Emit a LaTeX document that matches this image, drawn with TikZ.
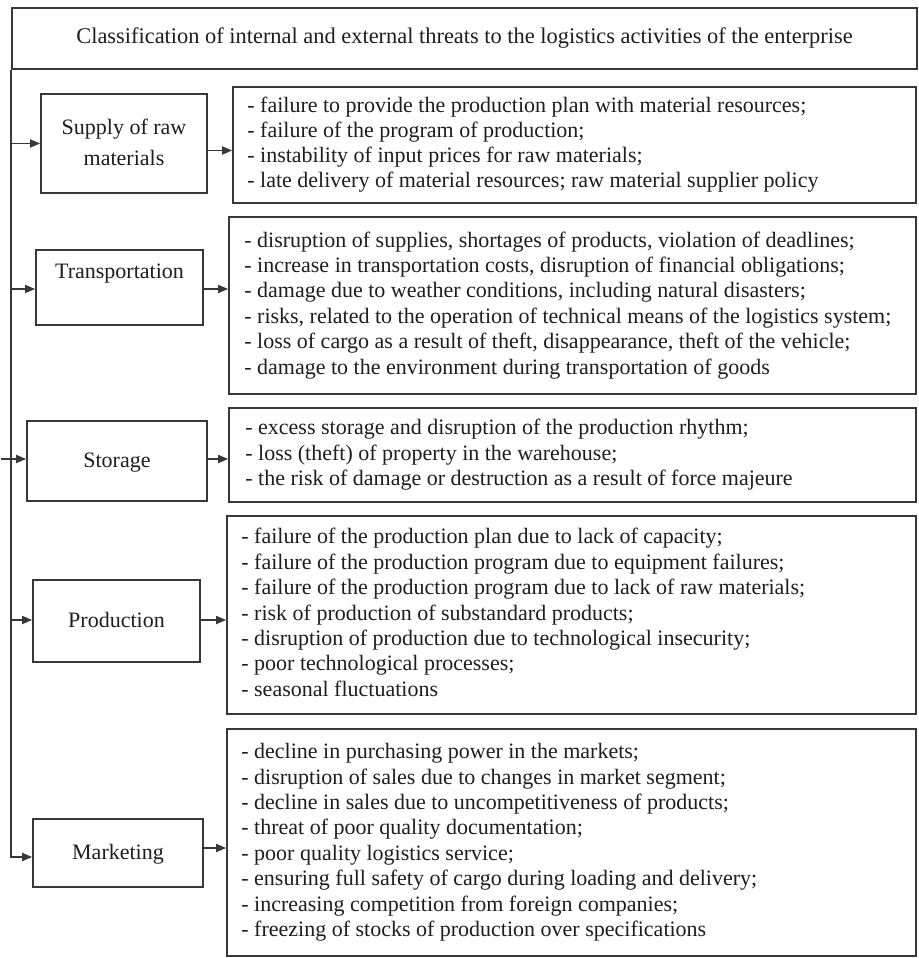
\documentclass[tikz,border=0pt]{standalone}
\usepackage{fontspec}
\setmainfont{Liberation Serif}
\usetikzlibrary{arrows.meta}
\definecolor{linec}{HTML}{383838}
\definecolor{txtc}{HTML}{1E1E1E}
\newcommand\supfnt{\fontsize{22}{24.8}\selectfont}
\newcommand\loosefnt{\fontsize{22}{25.4}\selectfont}
\begin{document}
\begin{tikzpicture}[x=1pt,y=-1pt,
  box/.style={draw=linec, line width=1.7pt, inner sep=0pt, text=txtc},
  arr/.style={draw=linec, line width=1.7pt, -{Triangle[length=10pt,width=8pt]}},
  lt/.style={font={\fontsize{22}{30}\selectfont}, align=center},
  rt/.style={anchor=west, inner sep=0pt, align=left, text=txtc, font=\loosefnt},
]
\useasboundingbox (0,0) rectangle (918,958);
\fill[white] (0,0) rectangle (918,958);

\node[box, minimum width=905pt, minimum height=61pt, font={\fontsize{22.4}{24}\selectfont}] (title) at (464.5,38.5)
  {\strut Classification of internal and external threats to the logistics activities of the enterprise};

% left boxes
\node[box, lt, minimum width=166pt, minimum height=99pt, font={\fontsize{22}{31}\selectfont}] (sup) at (124,143.5) {\strut Supply of raw\\materials\strut};
\node[box, lt, minimum width=167pt, minimum height=75pt] (tra) at (119.5,287.5) {\strut Transportation\\\strut};
\node[box, lt, minimum width=180pt, minimum height=80pt] (sto) at (117,461) {\strut Storage};
\node[box, lt, minimum width=167pt, minimum height=82pt] (pro) at (116.5,621) {\strut Production};
\node[box, lt, minimum width=170pt, minimum height=68pt] (mkt) at (118,853) {\strut Marketing};

% right boxes
\node[box, minimum width=683pt, minimum height=116pt] (supR) at (574.5,145) {};
\node[box, minimum width=687pt, minimum height=177pt] (traR) at (572.5,305.5) {};
\node[box, minimum width=687pt, minimum height=94pt] (stoR) at (572.5,455) {};
\node[box, minimum width=689pt, minimum height=198pt] (proR) at (571.5,615) {};
\node[box, minimum width=689pt, minimum height=227pt] (mktR) at (571.5,842.5) {};

% texts in the right boxes
\node[rt, font=\supfnt] (supT) at ([xshift=15pt]supR.west)
  {\strut- failure to provide the production plan with material resources;\\
   - failure of the program of production;\\
   - instability of input prices for raw materials;\\
   - late delivery of material resources; raw material supplier policy\strut};
\node[rt] (traT) at ([xshift=16pt]traR.west)
  {\strut- disruption of supplies, shortages of products, violation of deadlines;\\
   - increase in transportation costs, disruption of financial obligations;\\
   - damage due to weather conditions, including natural disasters;\\
   - risks, related to the operation of technical means of the logistics system;\\
   - loss of cargo as a result of theft, disappearance, theft of the vehicle;\\
   - damage to the environment during transportation of goods\strut};
\node[rt] (stoT) at ([xshift=17pt]stoR.west)
  {\strut- excess storage and disruption of the production rhythm;\\
   - loss (theft) of property in the warehouse;\\
   - the risk of damage or destruction as a result of force majeure\strut};
\node[rt] (proT) at ([xshift=15pt]proR.west)
  {\strut- failure of the production plan due to lack of capacity;\\
   - failure of the production program due to equipment failures;\\
   - failure of the production program due to lack of raw materials;\\
   - risk of production of substandard products;\\
   - disruption of production due to technological insecurity;\\
   - poor technological processes;\\
   - seasonal fluctuations\strut};
\node[rt] (mktT) at ([xshift=15pt]mktR.west)
  {\strut- decline in purchasing power in the markets;\\
   - disruption of sales due to changes in market segment;\\
   - decline in sales due to uncompetitiveness of products;\\
   - threat of poor quality documentation;\\
   - poor quality logistics service;\\
   - ensuring full safety of cargo during loading and delivery;\\
   - increasing competition from foreign companies;\\
   - freezing of stocks of production over specifications\strut};

% spine and left arrows
\coordinate (mktin) at ([yshift=-4pt]mkt.west);
\draw[arr] (title.south west) |- (mktin);
\draw[arr] (title.south west |- sup.west) -- (sup.west);
\draw[arr] ([yshift=-1.5pt]title.south west |- tra.west) -- ([yshift=-1.5pt]tra.west);
\draw[arr] ([xshift=-10pt,yshift=2pt]title.south west |- sto.west) -- ([yshift=2pt]sto.west);
\draw[arr] ([yshift=1pt]title.south west |- pro.west) -- ([yshift=1pt]pro.west);

% right arrows
\draw[arr] ([yshift=-7pt]sup.east) -- ([yshift=-7pt]sup.east -| supR.west);
\draw[arr] ([yshift=-1.5pt]tra.east) -- ([yshift=-1.5pt]tra.east -| traR.west);
\draw[arr] ([yshift=2pt]sto.east) -- ([yshift=2pt]sto.east -| stoR.west);
\draw[arr] ([yshift=1pt]pro.east) -- ([yshift=1pt]pro.east -| proR.west);
\draw[arr] ([yshift=5pt]mkt.east) -- ([yshift=5pt]mkt.east -| mktR.west);
\end{tikzpicture}
\end{document}
